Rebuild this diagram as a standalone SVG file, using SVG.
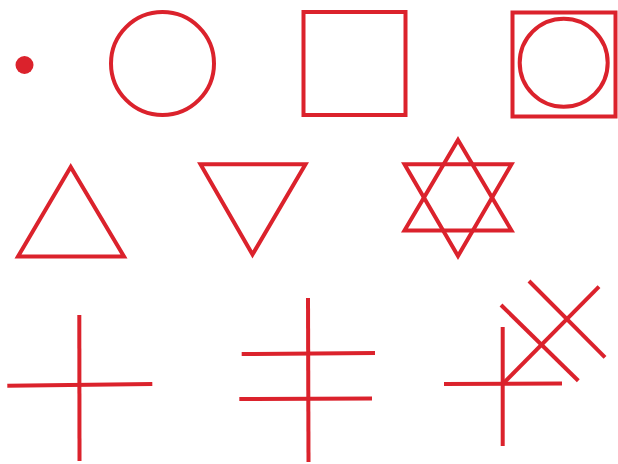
<svg xmlns="http://www.w3.org/2000/svg" width="618" height="464" viewBox="0 0 618 464">
<style>
.s{fill:none;stroke:#db222c;stroke-width:4;stroke-linejoin:miter}
.l{fill:none;stroke:#db222c;stroke-width:4;stroke-linecap:butt}
</style>
<rect width="618" height="464" fill="#ffffff"/>
<g id="dot"><circle cx="24.5" cy="65" r="9" fill="#db222c"/></g>
<g id="circle"><circle class="s" cx="162.5" cy="63.5" r="51.5"/></g>
<g id="square"><rect class="s" x="303.5" y="12" width="102" height="103"/></g>
<g id="square-circle"><rect class="s" x="512.5" y="12.5" width="103" height="104"/><circle class="s" cx="563.7" cy="62.8" r="44"/></g>
<g id="triangle-up"><polygon class="s" points="70.7,167 18,256.5 124,256.5"/></g>
<g id="triangle-down"><polygon class="s" points="200.5,164.3 305.5,164.3 252.5,254.5"/></g>
<g id="star"><polygon class="s" points="458,140 511.5,230.5 404.5,230.5"/><polygon class="s" points="404.5,164.3 511.5,164.3 458,256"/></g>
<g id="cross"><line class="l" x1="79.3" y1="315" x2="79.5" y2="461"/><line class="l" x1="7.3" y1="385.7" x2="152.3" y2="384"/></g>
<g id="double-cross"><line class="l" x1="308" y1="298" x2="308.5" y2="462"/><line class="l" x1="241.7" y1="354" x2="375" y2="353"/><line class="l" x1="239.3" y1="399" x2="372" y2="398.5"/></g>
<g id="cross-x"><line class="l" x1="502.7" y1="327" x2="502.7" y2="446"/><line class="l" x1="444" y1="384" x2="562" y2="383.5"/><line class="l" x1="502.7" y1="384" x2="599" y2="286.7"/><line class="l" x1="501" y1="305" x2="578.3" y2="380.7"/><line class="l" x1="529" y1="281" x2="605" y2="357.3"/></g>
</svg>
